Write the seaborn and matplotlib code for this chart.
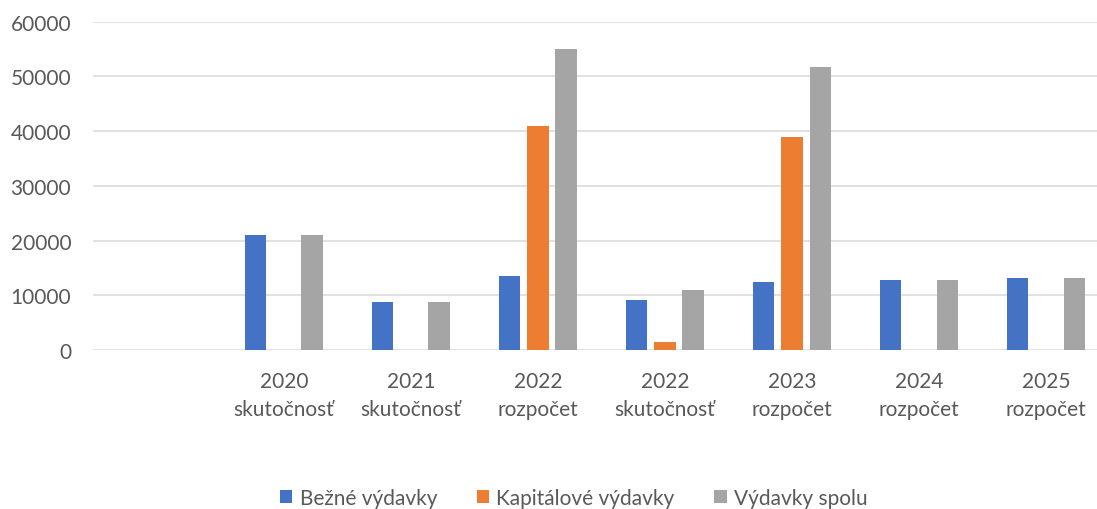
import matplotlib
matplotlib.use("Agg")
import matplotlib.pyplot as plt
import seaborn as sns
import pandas as pd

# data
categories = ["2020\nskutočnosť", "2021\nskutočnosť", "2022\nrozpočet", "2022\nskutočnosť",
              "2023\nrozpočet", "2024\nrozpočet", "2025\nrozpočet"]
bezne = [21100, 8700, 13600, 9200, 12500, 12700, 13100]
kapitalove = [0, 0, 41000, 1400, 39000, 0, 0]
spolu = [21100, 8700, 55000, 11000, 51700, 12700, 13100]
series = ["Bežné výdavky", "Kapitálové výdavky", "Výdavky spolu"]
colors = ["#4472C4", "#ED7D31", "#A5A5A5"]
yticks = [0, 10000, 20000, 30000, 40000, 50000, 60000]

rows = []
for name, vals in zip(series, [bezne, kapitalove, spolu]):
    for cat, v in zip(categories, vals):
        rows.append({"rok": cat, "seria": name, "hodnota": v})
df = pd.DataFrame(rows)

sns.set_theme(style="white")
plt.rcParams['font.family'] = ['Lato', 'DejaVu Sans']
txt = "#595959"

fig = plt.figure(figsize=(10.97, 5.10), dpi=100)
ax = fig.add_axes([0.0852, 0.3118, 0.9262, 0.6437])

# first slot is left empty like in the original chart
sns.barplot(data=df, x="rok", y="hodnota", hue="seria", order=[""] + categories,
            hue_order=series, palette=colors, width=0.667, gap=0.24,
            saturation=1, linewidth=0, ax=ax)

ax.set_xlim(-0.5, 7.5)
ax.set_ylim(0, 60000)
ax.set_yticks(yticks)
ax.set_xlabel("")
ax.set_ylabel("")
ax.grid(axis="y", color="#D9D9D9", linewidth=1.1)
ax.set_axisbelow(True)
for s in ax.spines.values():
    s.set_visible(False)
ax.tick_params(axis="y", length=0, pad=16, labelsize=15, labelcolor=txt)
ax.tick_params(axis="x", length=0, pad=15, labelsize=15, labelcolor=txt)
for lab in ax.get_xticklabels():
    lab.set_linespacing(1.5)

handles, labels = ax.get_legend_handles_labels()
ax.get_legend().remove()
fig.legend(handles, labels, loc="center", bbox_to_anchor=(0.523, 0.022), ncol=3,
           frameon=False, fontsize=15, labelcolor=txt, handlelength=0.6,
           handleheight=0.6, handletextpad=0.35, columnspacing=1.9)

fig.savefig("out.png", dpi=100)
